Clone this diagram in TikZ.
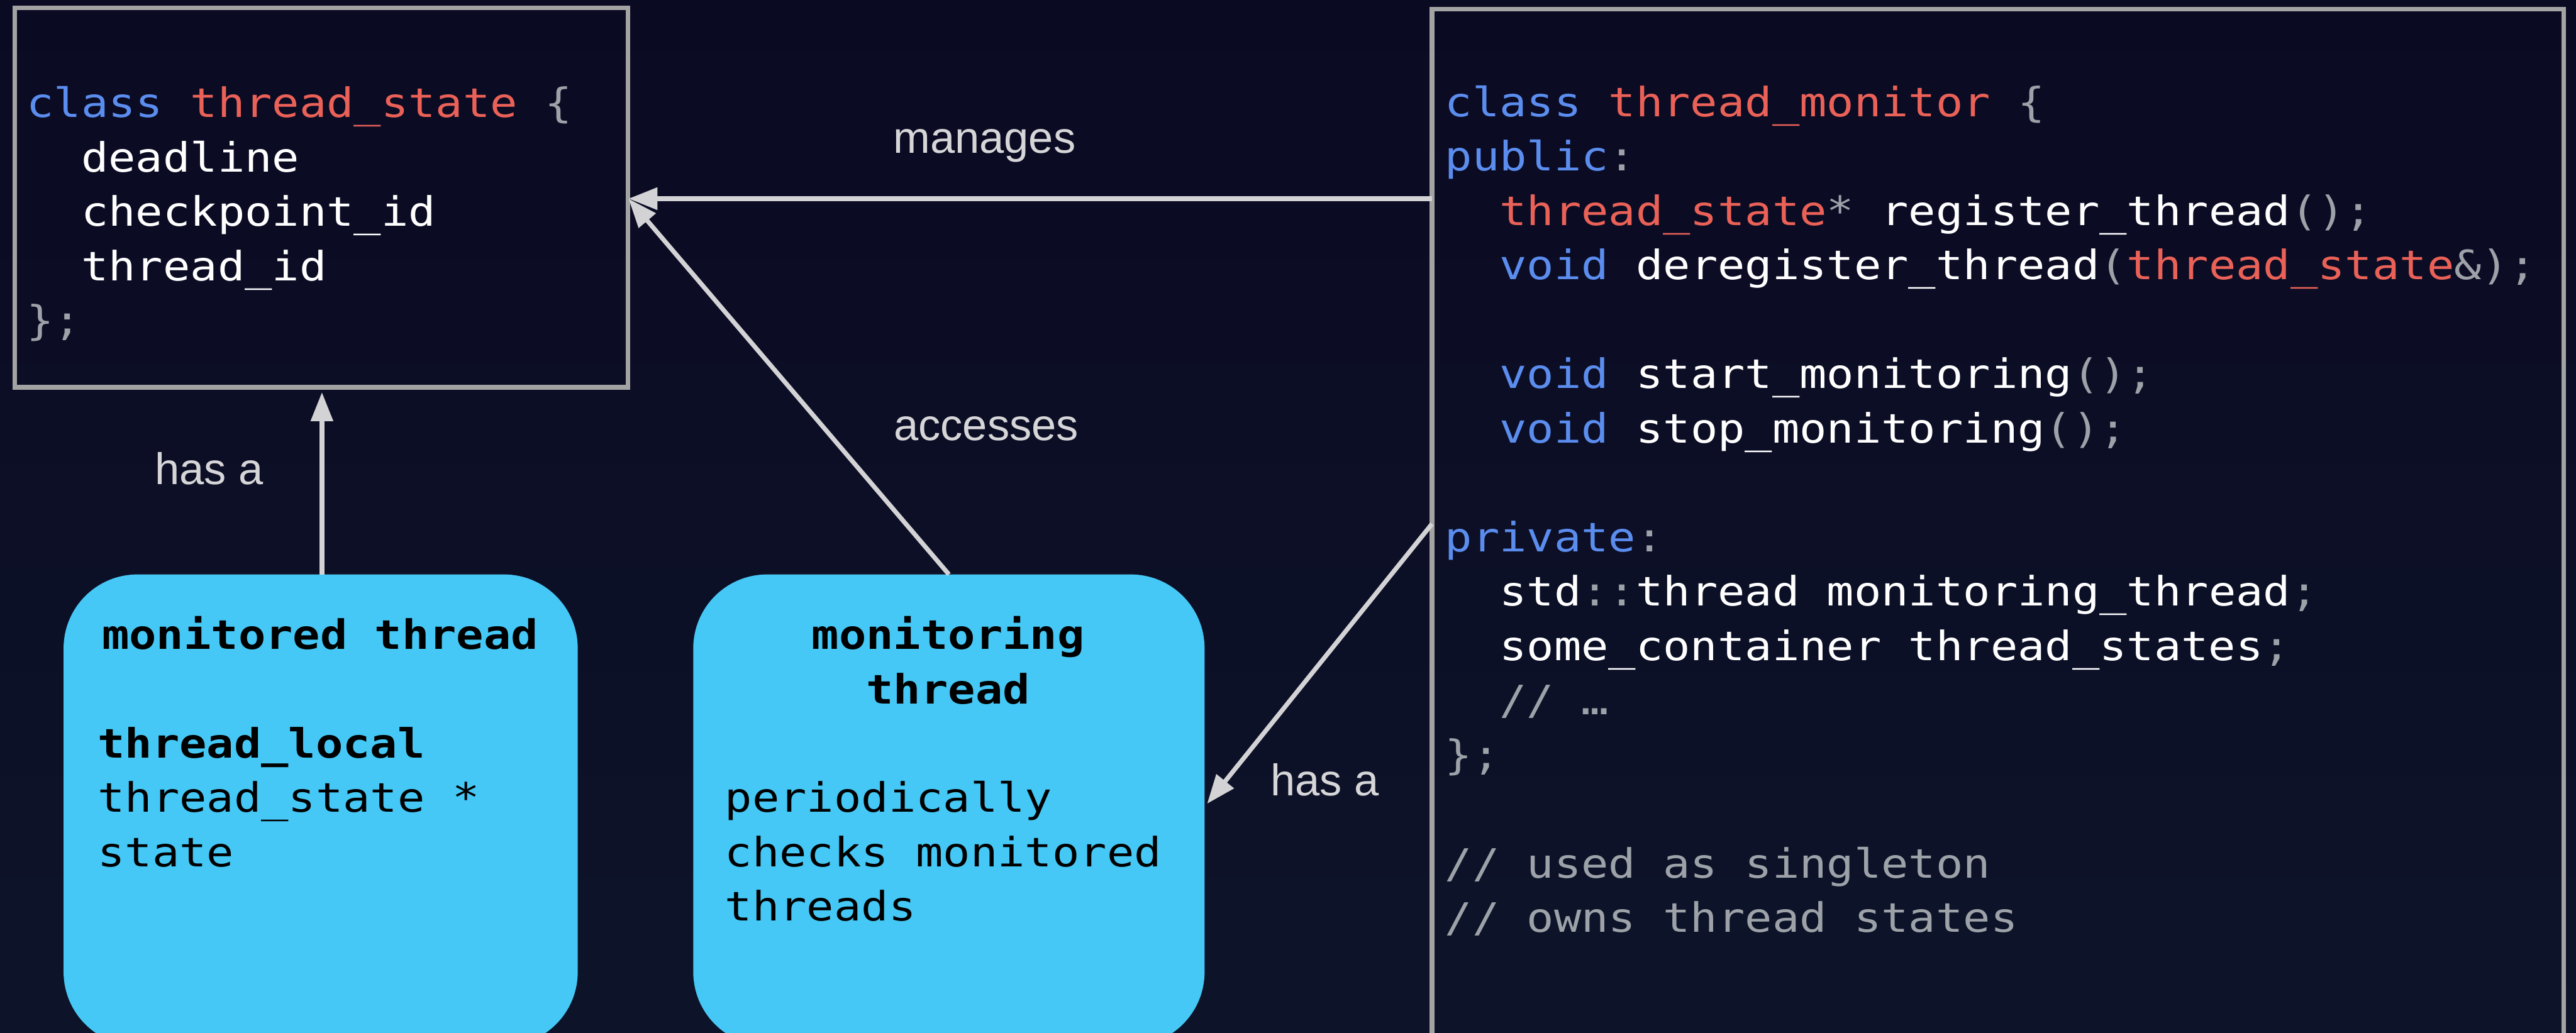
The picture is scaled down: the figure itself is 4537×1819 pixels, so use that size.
\documentclass[tikz,border=0pt]{standalone}
\usepackage{fontspec}
\usetikzlibrary{arrows.meta,calc}
\newfontfamily\codefont[FakeStretch=1.12]{DejaVu Sans Mono}
\newfontfamily\lblfont{Liberation Sans}
\definecolor{kw}{HTML}{5B8DEF}
\definecolor{ty}{HTML}{EA6157}
\definecolor{pu}{HTML}{9DA1A8}
\definecolor{bgtop}{HTML}{0B0A23}
\definecolor{bgbot}{HTML}{0D1429}
\definecolor{boxgray}{HTML}{A3A3A3}
\definecolor{skyfill}{HTML}{45C8F5}
\definecolor{arrgray}{HTML}{D3D3D6}
\definecolor{lblgray}{HTML}{D6D6D8}
\newcommand\ckw[1]{\textcolor{kw}{#1}}
\newcommand\cty[1]{\textcolor{ty}{#1}}
\newcommand\cpu[1]{\textcolor{pu}{#1}}
\newcommand\ind{\phantom{xx}}
\newcommand\codelines[1]{\vtop{\baselineskip=27.25pt\lineskiplimit=-100pt #1}}
\tikzset{
  codebox/.style={draw=boxgray, line width=2.28pt, fill=none, inner sep=0pt, outer sep=0pt, anchor=north west},
  threadbox/.style={fill=skyfill, draw=none, rounded corners=1.3cm, inner sep=0pt, outer sep=0pt, anchor=north west},
  codetext/.style={inner sep=0pt, outer sep=0pt, text=white, font=\codefont\fontsize{20.26pt}{27.25pt}\selectfont},
  bluetext/.style={inner sep=0pt, outer sep=0pt, text=black, font=\codefont\fontsize{20.26pt}{27.25pt}\selectfont},
  lbl/.style={inner sep=0pt, outer sep=0pt, text=lblgray, font=\lblfont\fontsize{22.2pt}{26pt}\selectfont, anchor=base},
  arr/.style={draw=arrgray, line width=2.28pt, -{Triangle[length=14.5pt,width=10.8pt]}}
}
\begin{document}
\begin{tikzpicture}[x=0.01cm, y=-0.01cm]
\useasboundingbox (0,0) rectangle (4537,1819);
\clip (0,0) rectangle (4537,1819);
\fill[top color=bgtop, bottom color=bgbot] (0,0) rectangle (4537,1819);

% boxes
\node[codebox, minimum width=10.79cm, minimum height=6.68cm] (ts) at (26,14) {};
\node[codebox, minimum width=19.92cm, minimum height=18.5cm] (tm) at (2522,16) {};
\node[threadbox, minimum width=9.05cm, minimum height=8.3cm] (mth) at (112,1012) {};
\node[threadbox, minimum width=9.0cm, minimum height=8.3cm] (mng) at (1221,1012) {};

% code: thread_state
\node[codetext, anchor=base west] (tsCode) at (47,207) {\codelines{%
\hbox{\ckw{class} \cty{thread\_state} \cpu{\{}}%
\hbox{\ind deadline}%
\hbox{\ind checkpoint\_id}%
\hbox{\ind thread\_id}%
\hbox{\cpu{\};}}}};

% code: thread_monitor
\node[codetext, anchor=base west] (tmCode) at (2545,205) {\codelines{%
\hbox{\ckw{class} \cty{thread\_monitor} \cpu{\{}}%
\hbox{\ckw{public}\cpu{:}}%
\hbox{\ind\cty{thread\_state}\cpu{*} register\_thread\cpu{();}}%
\hbox{\ind\ckw{void} deregister\_thread\cpu{(}\cty{thread\_state}\cpu{\&);}}%
\hbox{}%
\hbox{\ind\ckw{void} start\_monitoring\cpu{();}}%
\hbox{\ind\ckw{void} stop\_monitoring\cpu{();}}%
\hbox{}%
\hbox{\ckw{private}\cpu{:}}%
\hbox{\ind std\cpu{::}thread monitoring\_thread\cpu{;}}%
\hbox{\ind some\_container thread\_states\cpu{;}}%
\hbox{\ind\cpu{// …}}%
\hbox{\cpu{\};}}%
\hbox{}%
\hbox{\cpu{// used as singleton}}%
\hbox{\cpu{// owns thread states}}}};

% monitored thread text
\node[bluetext, anchor=base] (mthTitle) at (564,1144) {\bfseries monitored thread};
\node[bluetext, anchor=base west] (mthBody) at (172,1335) {\codelines{%
\hbox{\bfseries thread\_local}%
\hbox{thread\_state *}%
\hbox{state}}};

% monitoring thread text
\node[bluetext, anchor=base] (mngTitle) at (1670,1144) {\codelines{%
\hbox to 12em{\hss\bfseries monitoring\hss}%
\hbox to 12em{\hss\bfseries thread\hss}}};
\node[bluetext, anchor=base west] (mngBody) at (1277,1431) {\codelines{%
\hbox{periodically}%
\hbox{checks monitored}%
\hbox{threads}}};

% connectors
\coordinate (tsIn) at (1107,350);
\coordinate (tsBot) at (567,691);
\coordinate (tmOut) at (2522,923);
\coordinate (mngIn) at (2126,1416);
\draw[arr] (tm.west |- tsIn) -- (tsIn);
\draw[arr] (mng.north) -- (tsIn);
\draw[arr] (mth.north -| tsBot) -- (tsBot);
\draw[arr] (tmOut) -- (mngIn);

% labels
\node[lbl] (lManages) at (1734,270) {manages};
\node[lbl] (lAccesses) at (1737,776) {accesses};
\node[lbl] (lHasA1) at (368,853) {has a};
\node[lbl] (lHasA2) at (2333,1402) {has a};
\end{tikzpicture}
\end{document}
